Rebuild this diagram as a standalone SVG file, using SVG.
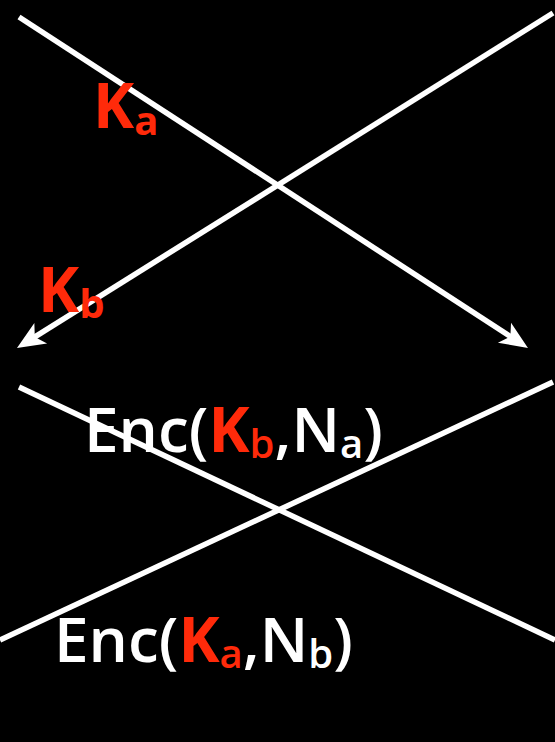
<svg xmlns="http://www.w3.org/2000/svg" width="555" height="742" viewBox="0 0 555 742">
<style>
.ln{stroke:#fff;stroke-width:5.5;fill:none}
.t{font-family:"Open Sans","Liberation Sans",sans-serif;font-weight:600;fill:#fff}
.r{fill:#ff2a0a}
.b{font-weight:700}
.m{font-size:62px}
.s{font-size:40px}
</style>
<defs>
<marker id="ah" markerUnits="userSpaceOnUse" markerWidth="40" markerHeight="40" refX="0" refY="0" orient="auto" overflow="visible">
<path d="M15,0 L-13,-12 L-6,0 L-13,12 Z" fill="#fff"/>
</marker>
</defs>
<rect width="555" height="742" fill="#000"/>
<g id="connectors">
<line class="ln" x1="19" y1="17" x2="515.4" y2="339.8" marker-end="url(#ah)"/>
<line class="ln" x1="553" y1="13" x2="29.7" y2="340.1" marker-end="url(#ah)"/>
<line class="ln" x1="19" y1="387" x2="555" y2="640"/>
<line class="ln" x1="553" y1="382" x2="0" y2="640"/>
</g>
<g id="label-ka">
<text class="t r b m" x="93" y="128">K<tspan class="s" dy="7">a</tspan></text>
</g>
<g id="label-kb">
<text class="t r b m" x="38" y="312">K<tspan class="s" dy="6">b</tspan></text>
</g>
<g id="msg1">
<text class="t m" x="84" y="452">Enc(<tspan class="r b">K</tspan><tspan class="r s" dy="6">b</tspan><tspan dy="-6">,N</tspan><tspan class="s" dy="6">a</tspan><tspan dy="-6">)</tspan></text>
</g>
<g id="msg2">
<text class="t m" x="54" y="662">Enc(<tspan class="r b">K</tspan><tspan class="r s" dy="6">a</tspan><tspan dy="-6">,N</tspan><tspan class="s" dy="6">b</tspan><tspan dy="-6">)</tspan></text>
</g>
</svg>
